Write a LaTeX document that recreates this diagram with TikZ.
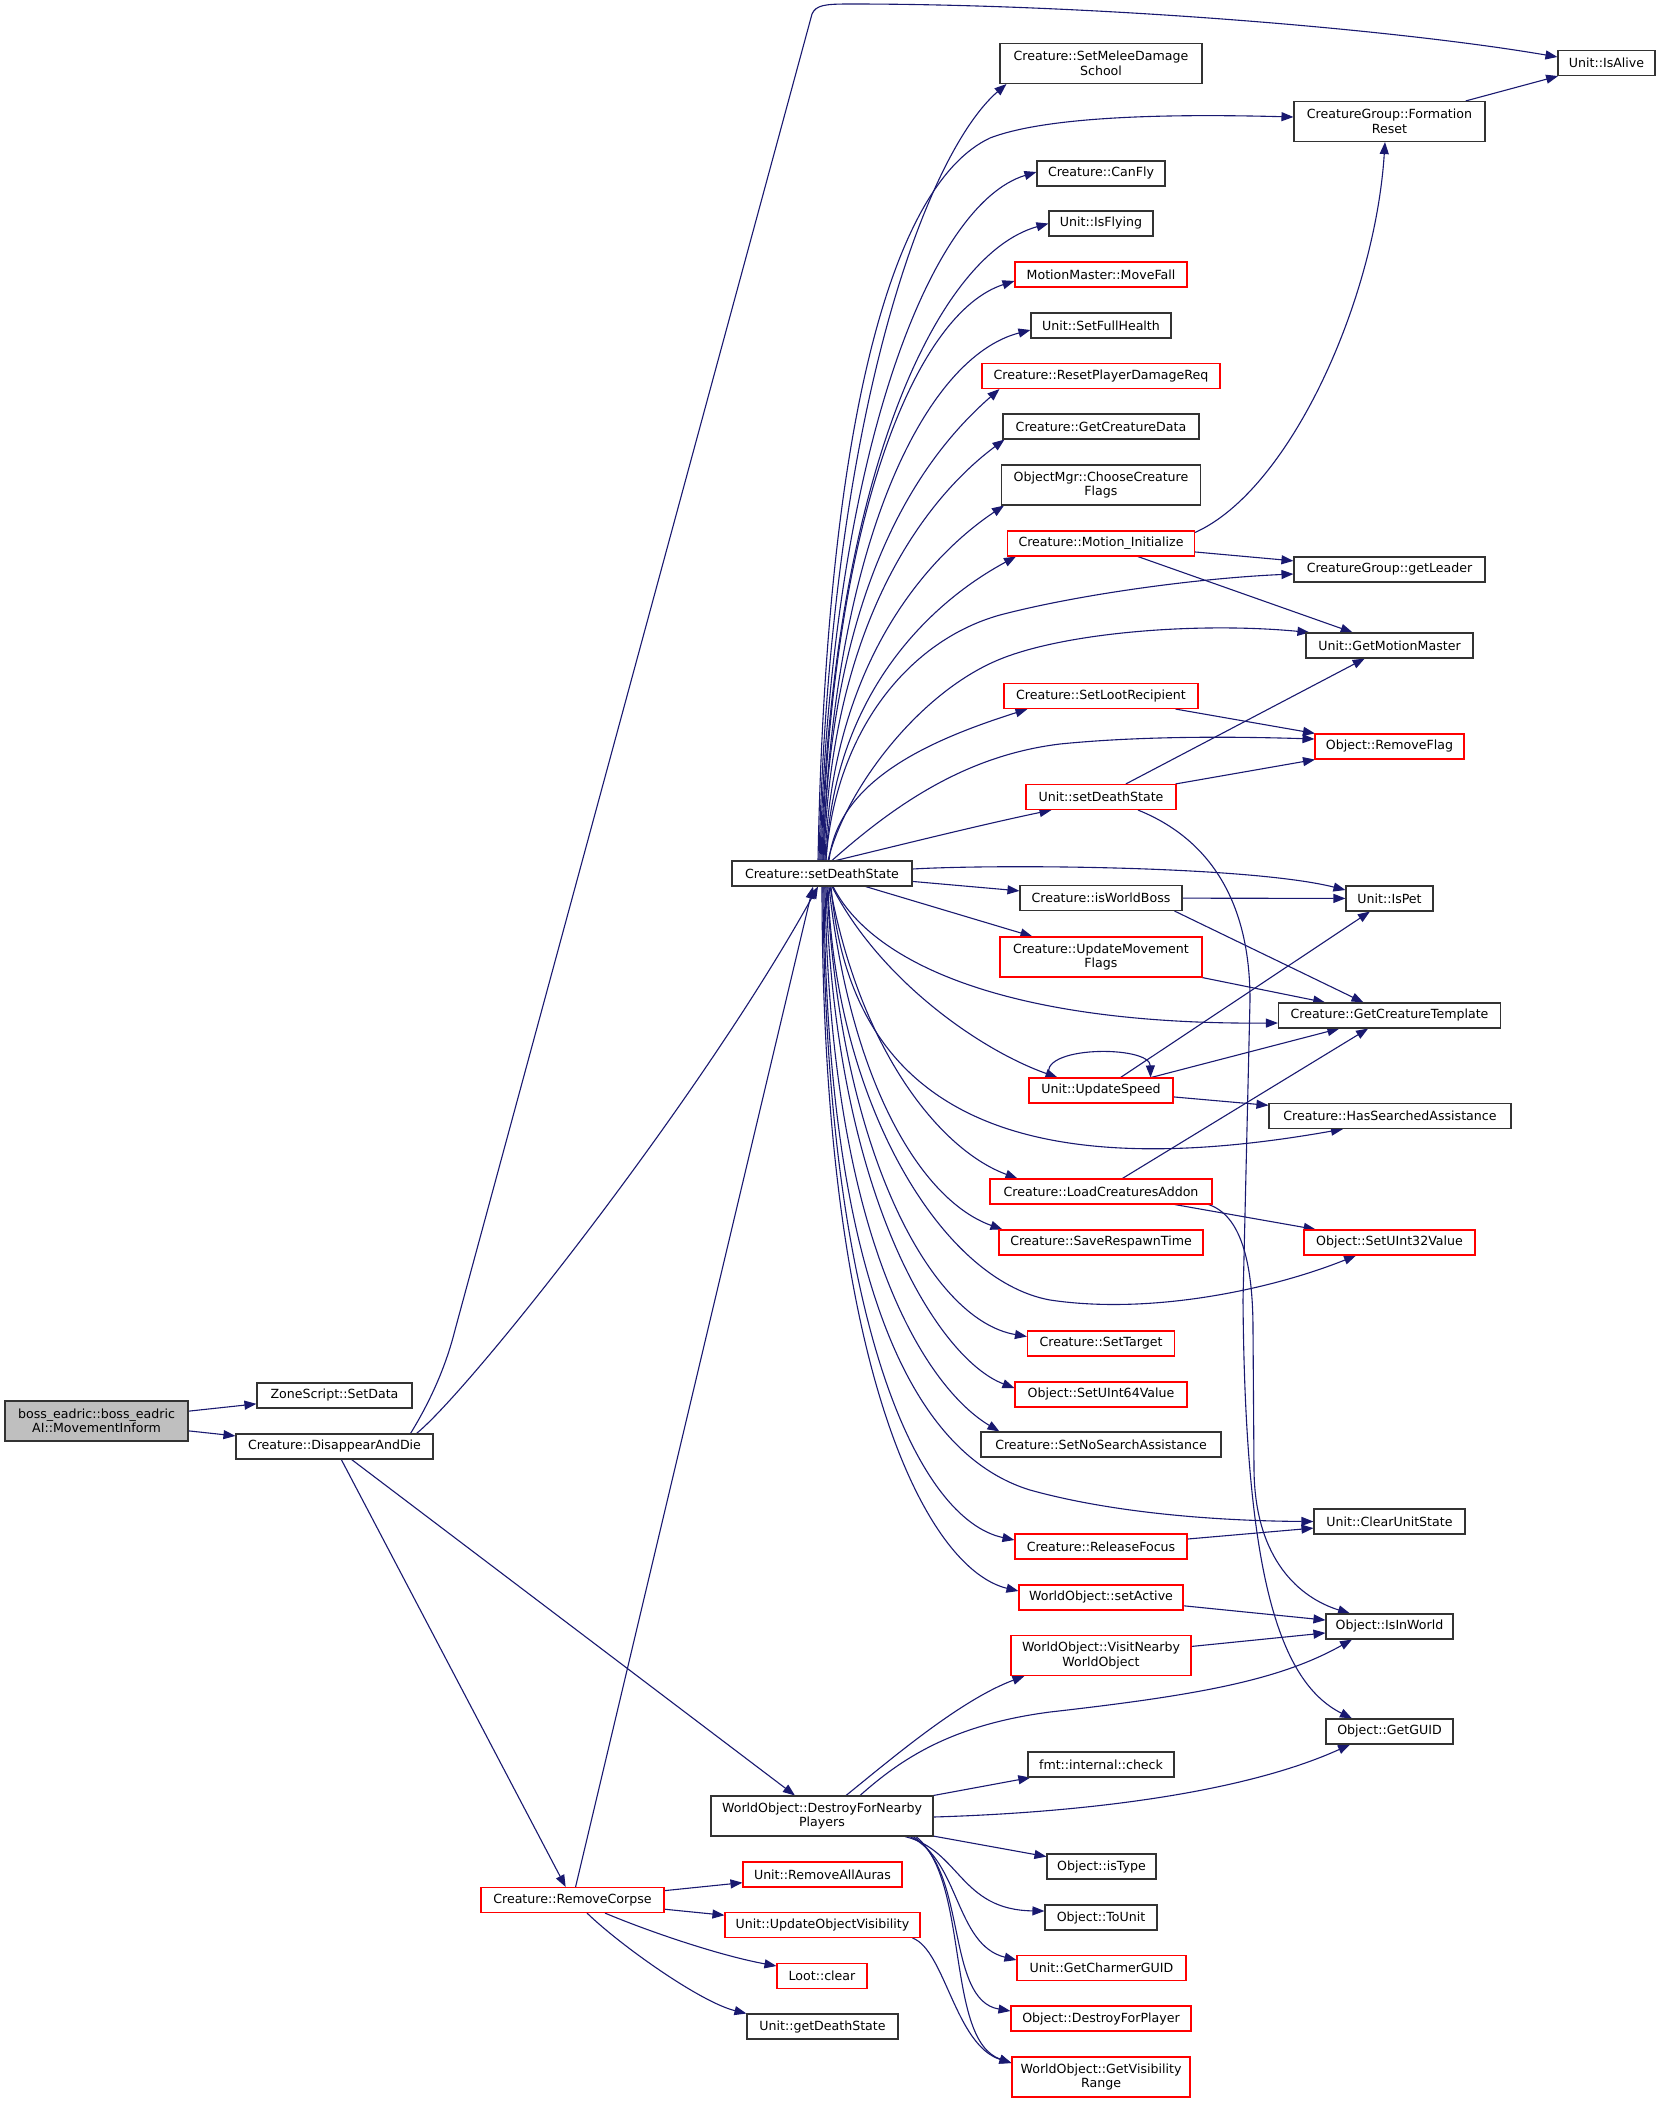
\documentclass[tikz,border=0pt]{standalone}
\usepackage{fontspec}
\setmainfont{DejaVu Sans}
\usetikzlibrary{arrows.meta}
\definecolor{edgeblue}{HTML}{191970}
\definecolor{rootfill}{HTML}{BFBFBF}
\pgfdeclarelayer{back}
\pgfdeclarelayer{bg}
\pgfsetlayers{back,bg,main}
\tikzset{
  nd/.style={draw=black!80, line width=1.1pt, fill=white, inner sep=0pt, minimum height=25pt, align=center, font=\fontsize{12.6}{14.5}\selectfont},
  rd/.style={nd, draw=red},
  two/.style={minimum height=40pt},
  edge/.style={draw=edgeblue, line width=1.1pt, -{Triangle[length=12pt,width=9pt]}},
}
\begin{document}
\begin{tikzpicture}[x=1pt,y=-1pt]
\begin{pgfonlayer}{back}
\path[fill=white] (0,0) rectangle (1660,2103);
\end{pgfonlayer}
\useasboundingbox (0,0) rectangle (1660,2103);
% column 0/1
\node[nd, two, fill=rootfill, minimum width=183pt] (boss) at (96.5,1421) {boss\_eadric::boss\_eadric\\AI::MovementInform};
\node[nd, minimum width=155pt] (zsd) at (334.5,1395.5) {ZoneScript::SetData};
\node[nd, minimum width=197pt] (dad) at (334.5,1446.5) {Creature::DisappearAndDie};
% column 2/3
\node[nd, minimum width=180pt] (cds) at (822,873.5) {Creature::setDeathState};
\node[nd, two, minimum width=222pt] (dfn) at (822,1816) {WorldObject::DestroyForNearby\\Players};
\node[rd, minimum width=183pt] (rc) at (572.5,1900) {Creature::RemoveCorpse};
\node[rd, minimum width=159pt] (raa) at (822.5,1874.5) {Unit::RemoveAllAuras};
\node[rd, minimum width=195pt] (uov) at (822.5,1925) {Unit::UpdateObjectVisibility};
\node[rd, minimum width=90pt] (lc) at (822,1976) {Loot::clear};
\node[nd, minimum width=151pt] (gds) at (822.5,2026.5) {Unit::getDeathState};
% column 4
\node[nd, two, minimum width=202pt] (smds) at (1101,63.5) {Creature::SetMeleeDamage\\School};
\node[nd, minimum width=128pt] (cf) at (1101,173.5) {Creature::CanFly};
\node[nd, minimum width=104pt] (ifl) at (1101,223.5) {Unit::IsFlying};
\node[rd, minimum width=172pt] (mf) at (1101,274.5) {MotionMaster::MoveFall};
\node[nd, minimum width=140pt] (sfh) at (1101,325.5) {Unit::SetFullHealth};
\node[rd, minimum width=238pt] (rpd) at (1101,376) {Creature::ResetPlayerDamageReq};
\node[nd, minimum width=196pt] (gcd) at (1101,426.5) {Creature::GetCreatureData};
\node[nd, two, minimum width=199pt] (ccf) at (1101,485) {ObjectMgr::ChooseCreature\\Flags};
\node[rd, minimum width=187pt] (mi) at (1101,543.5) {Creature::Motion\_Initialize};
\node[rd, minimum width=194pt] (slr) at (1101,696) {Creature::SetLootRecipient};
\node[rd, minimum width=150pt] (usd) at (1101,797) {Unit::setDeathState};
\node[nd, minimum width=162pt] (iwb) at (1101,898) {Creature::isWorldBoss};
\node[rd, two, minimum width=202pt] (umf) at (1101,957) {Creature::UpdateMovement\\Flags};
\node[rd, minimum width=144pt] (us) at (1101,1090.5) {Unit::UpdateSpeed};
\node[rd, minimum width=222pt] (lca) at (1101,1191.5) {Creature::LoadCreaturesAddon};
\node[rd, minimum width=204pt] (srt) at (1101,1242.5) {Creature::SaveRespawnTime};
\node[rd, minimum width=147pt] (st) at (1101,1343.5) {Creature::SetTarget};
\node[rd, minimum width=172pt] (su64) at (1101,1394.5) {Object::SetUInt64Value};
\node[nd, minimum width=240pt] (snsa) at (1101,1444.5) {Creature::SetNoSearchAssistance};
\node[rd, minimum width=172pt] (rf) at (1101,1546.5) {Creature::ReleaseFocus};
\node[rd, minimum width=164pt] (sa) at (1101,1597.5) {WorldObject::setActive};
\node[rd, two, minimum width=180pt] (vnw) at (1101,1655.5) {WorldObject::VisitNearby\\WorldObject};
\node[nd, minimum width=146pt] (fic) at (1101,1764.5) {fmt::internal::check};
\node[nd, minimum width=109pt] (it) at (1101.5,1866.5) {Object::isType};
\node[nd, minimum width=112pt] (tu) at (1101,1917.5) {Object::ToUnit};
\node[rd, minimum width=169pt] (gcg) at (1101.5,1968) {Unit::GetCharmerGUID};
\node[rd, minimum width=180pt] (dfp) at (1101,2018.5) {Object::DestroyForPlayer};
\node[rd, two, minimum width=178pt] (gvr) at (1101,2077) {WorldObject::GetVisibility\\Range};
% column 5
\node[nd, two, minimum width=191pt] (fr) at (1389.5,121.5) {CreatureGroup::Formation\\Reset};
\node[nd, minimum width=191pt] (gl) at (1389.5,569.5) {CreatureGroup::getLeader};
\node[nd, minimum width=167pt] (gmm) at (1389.5,645.5) {Unit::GetMotionMaster};
\node[rd, minimum width=149pt] (rfl) at (1389.5,746.5) {Object::RemoveFlag};
\node[nd, minimum width=87pt] (ip) at (1389.5,898.5) {Unit::IsPet};
\node[nd, minimum width=222pt] (gct) at (1389.5,1015.5) {Creature::GetCreatureTemplate};
\node[nd, minimum width=242pt] (hsa) at (1390,1116) {Creature::HasSearchedAssistance};
\node[rd, minimum width=171pt] (su32) at (1389.5,1242.5) {Object::SetUInt32Value};
\node[nd, minimum width=151pt] (cus) at (1389.5,1521.5) {Unit::ClearUnitState};
\node[nd, minimum width=127pt] (iiw) at (1389.5,1626.5) {Object::IsInWorld};
\node[nd, minimum width=127pt] (gg) at (1389.5,1731.5) {Object::GetGUID};
% column 6
\node[nd, minimum width=97pt] (ia) at (1606.5,63) {Unit::IsAlive};

\begin{pgfonlayer}{bg}
% root
\draw[edge] (boss) -- (zsd);
\draw[edge] (boss) -- (dad);
% DisappearAndDie
\draw[edge] ([xshift=76pt]dad.north) .. controls (428,1405) and (445,1370) .. (455,1330) -- (812,14) .. controls (816,5) and (825,4) .. (850,4) .. controls (1100,4) and (1400,30) .. ([yshift=6pt]ia.west);
\draw[edge] ([xshift=82pt]dad.north) .. controls (470,1390) and (700,1100) .. ([xshift=-4pt]cds.south);
\draw[edge] (dad) -- (dfn);
\draw[edge] (dad) -- (rc);
% RemoveCorpse
\draw[edge] (rc) -- ([xshift=-9pt]cds.south);
\draw[edge] (rc) -- (raa);
\draw[edge] (rc) -- (uov);
\draw[edge] ([xshift=32.5pt]rc.south) .. controls (645,1930) and (717,1955) .. ([yshift=10pt]lc.west);
\draw[edge] ([xshift=14.5pt]rc.south) .. controls (620,1945) and (700,2002) .. ([yshift=13pt]gds.west);
\draw[edge] ([xshift=-8pt]uov.south east) .. controls (945,1950) and (955,2045) .. ([yshift=14pt]gvr.west);
% DestroyForNearbyPlayers
\draw[edge] ([xshift=24pt]dfn.north) .. controls (890,1760) and (960,1700) .. ([xshift=14pt]vnw.south west);
\draw[edge] ([xshift=38pt]dfn.north) .. controls (900,1760) and (950,1725) .. (1050,1712) .. controls (1200,1695) and (1280,1680) .. ([xshift=-37.5pt]iiw.south);
\draw[edge] (dfn) -- (fic);
\draw[edge] ([yshift=-1pt]dfn.east) .. controls (1100,1812) and (1250,1790) .. ([xshift=-39.5pt]gg.south);
\draw[edge] (dfn) -- (it);
\draw[edge] ([xshift=83pt]dfn.south) .. controls (960,1850) and (960,1910) .. ([yshift=6.5pt]tu.west);
\draw[edge] ([xshift=88pt]dfn.south) .. controls (960,1860) and (955,1945) .. ([yshift=8pt]gcg.west);
\draw[edge] ([xshift=91pt]dfn.south) .. controls (968,1870) and (945,2000) .. ([yshift=7.5pt]dfp.west);
\draw[edge] ([xshift=94pt]dfn.south) .. controls (970,1880) and (945,2040) .. ([yshift=14pt]gvr.west);
% Creature::setDeathState, upward
\draw[edge] ([xshift=-3pt]cds.north) .. controls (830,400) and (930,150) .. ([xshift=7pt]smds.south west);
\draw[edge] ([xshift=-4pt]cds.north) .. controls (826,430) and (890,185) .. (990,138) .. controls (1050,115) and (1180,114) .. ([yshift=4.5pt]fr.west);
\draw[edge] ([xshift=-2pt]cds.north) .. controls (831,455) and (930,204) .. ([yshift=1.5pt]cf.west);
\draw[edge] ([xshift=-1pt]cds.north) .. controls (832,480) and (936,255) .. (ifl.west);
\draw[edge] (cds.north) .. controls (832,510) and (918,312) .. ([yshift=-6.5pt]mf.west);
\draw[edge] ([xshift=1pt]cds.north) .. controls (833,540) and (926,357) .. ([yshift=-4.5pt]sfh.west);
\draw[edge] ([xshift=1pt]cds.north) .. controls (831,570) and (930,450) .. ([xshift=18pt]rpd.south west);
\draw[edge] ([xshift=2pt]cds.north) .. controls (831,615) and (930,495) .. ([xshift=2pt]gcd.south west);
\draw[edge] ([xshift=3pt]cds.north) .. controls (832,660) and (930,555) .. ([xshift=3pt]ccf.south west);
\draw[edge] ([xshift=4pt]cds.north) .. controls (833,690) and (935,600) .. ([xshift=9pt]mi.south west);
\draw[edge] ([xshift=4pt]cds.north) .. controls (835,730) and (910,640) .. (1000,615) .. controls (1080,594) and (1200,578) .. ([yshift=-4.5pt]gl.west);
\draw[edge] ([xshift=6pt]cds.north) .. controls (845,790) and (920,690) .. (1003,658) .. controls (1070,632) and (1200,622) .. ([xshift=4pt]gmm.north west);
\draw[edge] ([xshift=7pt]cds.north) .. controls (838,780) and (930,740) .. ([xshift=24pt]slr.south west);
\draw[edge] ([xshift=10pt]cds.north) .. controls (900,800) and (970,755) .. (1060,744) .. controls (1150,735) and (1250,737) .. ([yshift=7.5pt]rfl.west);
\draw[edge] ([xshift=14pt]cds.north) .. controls (900,845) and (980,825) .. ([xshift=26pt]usd.south west);
\draw[edge] ([yshift=4.5pt]cds.east) .. controls (1000,864) and (1250,866) .. ([yshift=8.5pt]ip.west);
\draw[edge] (cds) -- (iwb);
\draw[edge] (cds) -- (umf);
% Creature::setDeathState, downward
\draw[edge] ([xshift=11pt]cds.south) .. controls (870,960) and (1000,1025) .. ([yshift=-7.5pt]gct.west);
\draw[edge] ([xshift=10pt]cds.south) .. controls (880,980) and (980,1050) .. ([xshift=29pt]us.north west);
\draw[edge] ([xshift=9pt]cds.south) .. controls (850,1100) and (1000,1190) .. ([xshift=-47pt]hsa.south);
\draw[edge] ([xshift=8pt]cds.south) .. controls (860,1050) and (940,1150) .. ([xshift=28pt]lca.north west);
\draw[edge] ([xshift=7pt]cds.south) .. controls (850,1080) and (920,1200) .. ([xshift=4pt]srt.north west);
\draw[edge] ([xshift=6pt]cds.south) .. controls (835,1100) and (940,1280) .. (1050,1300) .. controls (1150,1315) and (1270,1290) .. ([xshift=-33.5pt]su32.south);
\draw[edge] ([xshift=5pt]cds.south) .. controls (840,1150) and (930,1320) .. ([yshift=7pt]st.west);
\draw[edge] ([xshift=4pt]cds.south) .. controls (835,1200) and (940,1360) .. ([yshift=6.5pt]su64.west);
\draw[edge] ([xshift=3pt]cds.south) .. controls (830,1250) and (930,1390) .. ([xshift=19pt]snsa.north west);
\draw[edge] ([xshift=2pt]cds.south) .. controls (826,1250) and (900,1450) .. (1030,1490) .. controls (1120,1515) and (1230,1521) .. (cus.west);
\draw[edge] ([xshift=1pt]cds.south) .. controls (825,1330) and (920,1520) .. ([yshift=6.5pt]rf.west);
\draw[edge] (cds.south) .. controls (822,1380) and (930,1570) .. ([yshift=6.5pt]sa.west);
% second level
\draw[edge] ([yshift=-2pt]mi.north east) .. controls (1290,490) and (1375,300) .. ([xshift=-4.5pt]fr.south);
\draw[edge] (mi) -- (gl);
\draw[edge] (mi) -- (gmm);
\draw[edge] (fr) -- (ia);
\draw[edge] (slr) -- (rfl);
\draw[edge] (usd) -- (gmm);
\draw[edge] (usd) -- (rfl);
\draw[edge] ([xshift=37pt]usd.south) .. controls (1200,835) and (1250,890) .. (1250,1000) -- (1243,1300) .. controls (1245,1560) and (1275,1680) .. ([xshift=-37.5pt]gg.north);
\draw[edge] (iwb) -- (ip);
\draw[edge] ([xshift=-8pt]iwb.south east) -- ([xshift=-26pt]gct.north);
\draw[edge] (umf) -- (gct);
\draw[edge] ([xshift=21pt]us.north west) .. controls (1035,1045) and (1150,1045) .. ([xshift=-23pt]us.north east);
\draw[edge] (us) -- (ip);
\draw[edge] (us) -- (gct);
\draw[edge] (us) -- (hsa);
\draw[edge] (lca) -- (gct);
\draw[edge] (lca) -- (su32);
\draw[edge] ([xshift=-4pt]lca.south east) .. controls (1240,1215) and (1253,1260) .. (1253,1330) -- (1254,1470) .. controls (1255,1560) and (1300,1598) .. ([xshift=-39.5pt]iiw.north);
\draw[edge] (rf) -- (cus);
\draw[edge] (sa) -- (iiw);
\draw[edge] (vnw) -- (iiw);
\end{pgfonlayer}
\end{tikzpicture}
\end{document}
